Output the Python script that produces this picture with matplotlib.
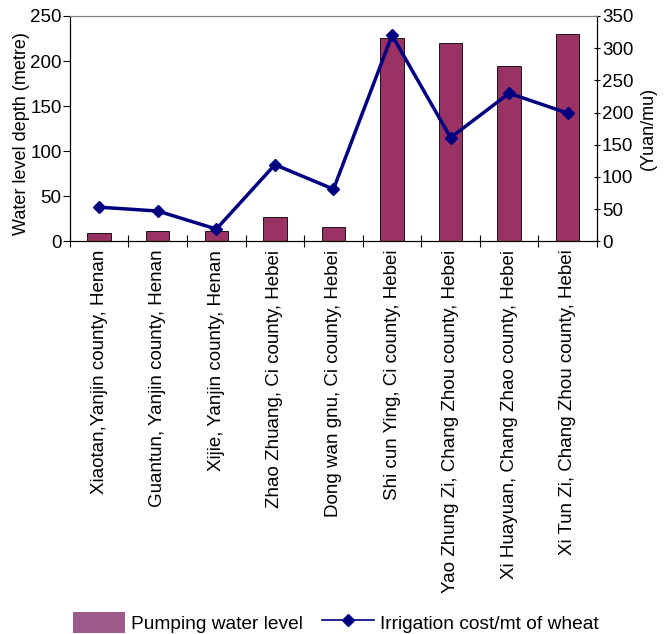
import matplotlib.pyplot as plt
import numpy as np
from matplotlib.patches import Patch
from matplotlib.lines import Line2D

plt.rcParams['font.family'] = ['Liberation Sans', 'DejaVu Sans']

# Villages and their values
sites = ['Xiaotan,Yanjin county, Henan',
         'Guantun, Yanjin county, Henan',
         'Xijie, Yanjin county, Henan',
         'Zhao Zhuang, Ci county, Hebei',
         'Dong wan gnu, Ci county, Hebei',
         'Shi cun Ying, Ci county, Hebei',
         'Yao Zhung Zi, Chang Zhou county, Hebei',
         'Xi Huayuan, Chang Zhao county, Hebei',
         'Xi Tun Zi, Chang Zhou county, Hebei']
water_level = [9, 11, 11, 27, 15.5, 225.5, 220.5, 194.5, 230]
irrigation_cost = [53, 47, 19, 119, 81, 320, 161, 230, 199]

bar_color = '#993366'
line_color = '#000080'
fs = 13.5

fig = plt.figure(figsize=(6.66, 6.34), dpi=100)
ax = fig.add_axes([0.105, 0.6194, 0.7914, 0.3554])
ax2 = ax.twinx()

x = np.arange(len(sites))
ax.bar(x, water_level, width=0.4, color=bar_color, edgecolor='black', linewidth=0.6, zorder=2)
ax2.plot(x, irrigation_cost, color=line_color, linewidth=2.5, marker='D', markersize=6, zorder=3)

ax.set_xlim(-0.5, len(sites) - 0.5)
ax.set_ylim(0, 250)
ax.set_yticks(range(0, 251, 50))
ax2.set_ylim(0, 350)
ax2.set_yticks(range(0, 351, 50))

# category ticks sit between bars, labels under each bar
ax.set_xticks(np.arange(-0.5, len(sites), 1.0))
ax.set_xticklabels([])
ax.set_xticks(x, minor=True)
ax.set_xticklabels(sites, minor=True, rotation=90, fontsize=fs)
ax.tick_params(axis='x', which='minor', length=0, pad=6)
ax.tick_params(axis='x', which='major', direction='inout', length=8, width=0.8)
ax.tick_params(axis='y', labelsize=fs, length=5, width=0.8, pad=1)
ax2.tick_params(axis='y', labelsize=fs, length=5, width=0.8, direction='inout', pad=1)

ax.set_ylabel('Water level depth (metre)', fontsize=13)
ax.yaxis.set_label_coords(-0.076, 0.48)
ax2.set_ylabel('(Yuan/mu)', fontsize=13)
ax2.yaxis.set_label_coords(1.082, 0.5)

for a in (ax, ax2):
    a.spines['top'].set_color('#808080')
    for s in a.spines.values():
        s.set_linewidth(0.8)

handles = [Patch(facecolor='#9b5a8a', edgecolor='none', label='Pumping water level'),
           Line2D([], [], color=line_color, linewidth=1.2, marker='D', markersize=6,
                  label='Irrigation cost/mt of wheat')]
fig.legend(handles=handles, loc='lower center', bbox_to_anchor=(0.5045, -0.025), ncol=2,
           frameon=False, fontsize=13.75, handlelength=2.72, handleheight=1.3,
           columnspacing=1.0, handletextpad=0.31)

fig.savefig('out.png', dpi=100)
